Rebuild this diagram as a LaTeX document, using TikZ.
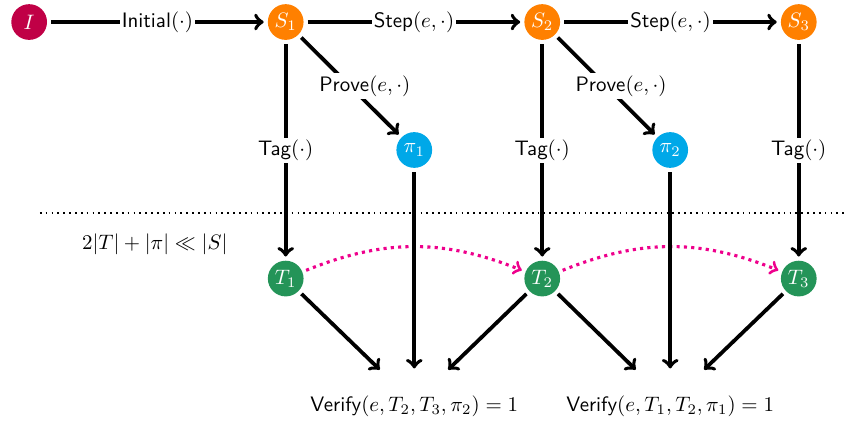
\documentclass[tikz,border=0pt]{standalone}
\usepackage{amsmath}
\usepackage{amssymb}

\definecolor{initred}{RGB}{192,0,70}
\definecolor{stateorange}{RGB}{255,128,0}
\definecolor{proofblue}{RGB}{0,168,232}
\definecolor{taggreen}{RGB}{36,148,88}
\definecolor{linkpink}{RGB}{238,0,140}

\begin{document}
\begin{tikzpicture}[
        dot/.style={circle, minimum size=0.6cm, inner sep=0pt, outer sep=2pt,
            text=white},
        arr/.style={line width=1.8pt, ->},
        lbl/.style={fill=white, inner sep=1pt, font=\sffamily},
        link/.style={line width=1.5pt, ->, linkpink, dash pattern=on 1.5pt off 2pt}
    ]
        \useasboundingbox (0,0) rectangle (14.18,7.12);
        % top row
        \node[dot, fill=initred] (init) at (0.49,6.75) {$I$};
        \node[dot, fill=stateorange] (s1) at (4.80,6.75) {$S_1$};
        \node[dot, fill=stateorange] (s2) at (9.11,6.75) {$S_2$};
        \node[dot, fill=stateorange] (s3) at (13.42,6.75) {$S_3$};
        % proofs
        \node[dot, fill=proofblue] (p1) at (6.96,4.60) {$\pi_1$};
        \node[dot, fill=proofblue] (p2) at (11.26,4.60) {$\pi_2$};
        % tags
        \node[dot, fill=taggreen] (t1) at (4.80,2.44) {$T_1$};
        \node[dot, fill=taggreen] (t2) at (9.11,2.44) {$T_2$};
        \node[dot, fill=taggreen] (t3) at (13.42,2.44) {$T_3$};
        % verify
        \node[font=\sffamily] (v1) at (6.96,0.29) {Verify$(e,T_2,T_3,\pi_2)=1$};
        \node[font=\sffamily] (v2) at (11.26,0.29) {Verify$(e,T_1,T_2,\pi_1)=1$};
        \coordinate (v1l) at (6.38,0.91);
        \coordinate (v1m) at (6.96,0.93);
        \coordinate (v1r) at (7.53,0.91);
        \coordinate (v2l) at (10.68,0.91);
        \coordinate (v2m) at (11.26,0.93);
        \coordinate (v2r) at (11.83,0.91);

        \draw [arr] (init) -- (s1) node[pos=0.5, lbl]{Initial$(\cdot)$};
        \draw [arr] (s1) -- (s2) node[pos=0.5, lbl]{Step$(e,\cdot)$};
        \draw [arr] (s2) -- (s3) node[pos=0.5, lbl]{Step$(e,\cdot)$};
        \draw [arr] (s1) -- (p1) node[pos=0.5, lbl, xshift=0.25cm]{Prove$(e,\cdot)$};
        \draw [arr] (s2) -- (p2) node[pos=0.5, lbl, xshift=0.25cm]{Prove$(e,\cdot)$};
        \draw [arr] (s1) -- (t1) node[pos=0.5, lbl]{Tag$(\cdot)$};
        \draw [arr] (s2) -- (t2) node[pos=0.5, lbl]{Tag$(\cdot)$};
        \draw [arr] (s3) -- (t3) node[pos=0.5, lbl]{Tag$(\cdot)$};

        \draw [thick, dotted] (0.67,3.54) -- (14.18,3.54);
        \node (ratio) at (2.60,3.01) {$2|T|+|\pi| \ll |S|$};

        \draw [link] (t1) to[bend left=22] (t2);
        \draw [link] (t2) to[bend left=22] (t3);

        \draw [arr] (t1) -- (v1l);
        \draw [arr] (p1) -- (v1m);
        \draw [arr] (t2) -- (v1r);
        \draw [arr] (t2) -- (v2l);
        \draw [arr] (p2) -- (v2m);
        \draw [arr] (t3) -- (v2r);
    \end{tikzpicture}
\end{document}
